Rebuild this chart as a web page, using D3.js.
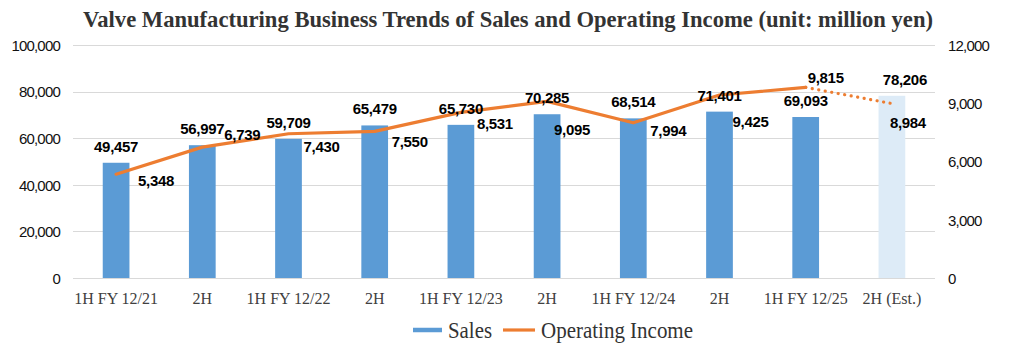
<!DOCTYPE html>
<html>
<head>
<meta charset="utf-8">
<script src="https://cdn.jsdelivr.net/npm/d3@7"></script>
<style>
  html, body { margin: 0; padding: 0; background: #fff; }
  svg { display: block; }
</style>
</head>
<body>
<svg id="chart" width="1015" height="364"></svg>
<script>
// ---- data ----
const categories = ["1H FY 12/21", "2H", "1H FY 12/22", "2H", "1H FY 12/23", "2H", "1H FY 12/24", "2H", "1H FY 12/25", "2H (Est.)"];
const sales = [49457, 56997, 59709, 65479, 65730, 70285, 68514, 71401, 69093, 78206];
const operatingIncome = [5348, 6739, 7430, 7550, 8531, 9095, 7994, 9425, 9815, 8984];
const estimateFlags = [false, false, false, false, false, false, false, false, false, true];
const leftTicks = [0, 20000, 40000, 60000, 80000, 100000];
const rightTicks = [0, 3000, 6000, 9000, 12000];
const titleText = "Valve Manufacturing Business Trends of Sales and Operating Income (unit: million yen)";
const legendLabels = ["Sales", "Operating Income"];

// ---- layout / style ----
const W = 1015, H = 364;
const plot = { left: 73, right: 935, top: 45, bottom: 278 };
const blue = "#5B9BD5", lightBlue = "#DDEBF7", orange = "#ED7D31", grid = "#D9D9D9";
const fmt = d3.format(",");

const svg = d3.select("#chart");
const idx = d3.range(categories.length);

const x = d3.scaleBand().domain(idx).range([plot.left, plot.right]).paddingInner(0.69).paddingOuter(0.345);
const yL = d3.scaleLinear().domain([0, 100000]).range([plot.bottom, plot.top]);
const yR = d3.scaleLinear().domain([0, 12000]).range([plot.bottom, plot.top]);
const cx = i => x(i) + x.bandwidth() / 2;

// title
svg.append("text")
  .attr("x", (83 + 933) / 2).attr("y", 27)
  .attr("text-anchor", "middle")
  .attr("font-family", "'Liberation Serif', 'Times New Roman', serif")
  .attr("font-weight", "bold").attr("font-size", 22.5)
  .attr("fill", "#333")
  .attr("textLength", 850).attr("lengthAdjust", "spacingAndGlyphs")
  .text(titleText);

// gridlines
svg.append("g").selectAll("line").data(leftTicks).join("line")
  .attr("x1", plot.left).attr("x2", plot.right)
  .attr("y1", d => Math.round(yL(d)) + 0.5).attr("y2", d => Math.round(yL(d)) + 0.5)
  .attr("stroke", grid).attr("stroke-width", 1);

// left axis
const leftAxis = d3.axisLeft(yL).tickValues(leftTicks).tickFormat(fmt).tickSize(0).tickPadding(0);
const gL = svg.append("g").attr("transform", `translate(60,0)`).call(leftAxis);
gL.select(".domain").remove();
gL.selectAll("text").attr("font-family", "'Liberation Sans', Arial, sans-serif").attr("font-size", 15)
  .attr("fill", "#111").attr("x", 0).attr("dy", "0.35em").attr("letter-spacing", -0.8);

// right axis
const rightAxis = d3.axisRight(yR).tickValues(rightTicks).tickFormat(fmt).tickSize(0).tickPadding(0);
const gR = svg.append("g").attr("transform", `translate(948,0)`).call(rightAxis);
gR.select(".domain").remove();
gR.selectAll("text").attr("font-family", "'Liberation Sans', Arial, sans-serif").attr("font-size", 15)
  .attr("fill", "#111").attr("x", 0).attr("dy", "0.35em").attr("letter-spacing", -0.8);

// bottom category axis
const bottomAxis = d3.axisBottom(x).tickFormat(i => categories[i]).tickSize(0).tickPadding(0);
const gB = svg.append("g").attr("transform", `translate(0,${plot.bottom})`).call(bottomAxis);
gB.select(".domain").remove();
gB.selectAll("text").attr("font-family", "'Liberation Serif', 'Times New Roman', serif")
  .attr("font-size", 16).attr("fill", "#404040").attr("y", 26).attr("dy", 0);

// bars
svg.append("g").selectAll("rect").data(idx).join("rect")
  .attr("x", i => x(i)).attr("width", x.bandwidth())
  .attr("y", i => yL(sales[i])).attr("height", i => yL(0) - yL(sales[i]))
  .attr("fill", i => estimateFlags[i] ? lightBlue : blue);

// line: solid actuals, dotted estimate
const lineGen = d3.line().x(i => cx(i)).y(i => yR(operatingIncome[i]));
const actualIdx = idx.filter(i => !estimateFlags[i]);
const lastActual = actualIdx[actualIdx.length - 1];
const estIdx = [lastActual].concat(idx.filter(i => estimateFlags[i]));
svg.append("path").attr("d", lineGen(actualIdx)).attr("fill", "none")
  .attr("stroke", orange).attr("stroke-width", 3.2).attr("stroke-linejoin", "round").attr("stroke-linecap", "round");
svg.append("path").attr("d", lineGen(estIdx)).attr("fill", "none")
  .attr("stroke", orange).attr("stroke-width", 3.2).attr("stroke-linecap", "round")
  .attr("stroke-dasharray", "0.1 6.5");

// sales labels
const labelFont = "'Liberation Sans', Arial, sans-serif";
const salesLabelDx = i => estimateFlags[i] ? 13 : 0;
svg.append("g").selectAll("text").data(idx).join("text")
  .attr("x", i => cx(i) + salesLabelDx(i))
  .attr("y", i => yL(sales[i]) - 11)
  .attr("text-anchor", "middle")
  .attr("font-family", labelFont).attr("font-weight", "bold").attr("font-size", 15).attr("fill", "#000")
  .attr("letter-spacing", -0.3)
  .text(i => fmt(sales[i]));

// operating income labels (manual placement like the original)
const oiOffsets = [[40, 6], [40, -13], [33, 13], [35, 10], [34, 11], [25, 28], [35, 8], [31, 27], [20, -10], [16, 19]];
svg.append("g").selectAll("text").data(idx).join("text")
  .attr("x", i => cx(i) + oiOffsets[i][0])
  .attr("y", i => yR(operatingIncome[i]) + oiOffsets[i][1] + 5.5)
  .attr("text-anchor", "middle")
  .attr("font-family", labelFont).attr("font-weight", "bold").attr("font-size", 15).attr("fill", "#000")
  .attr("letter-spacing", -0.3)
  .text(i => fmt(operatingIncome[i]));

// legend
const lg = svg.append("g");
const legendY = 330;
lg.append("line").attr("x1", 413).attr("x2", 442).attr("y1", legendY).attr("y2", legendY)
  .attr("stroke", blue).attr("stroke-width", 4.5);
lg.append("text").attr("x", 448).attr("y", legendY + 7.5)
  .attr("font-family", "'Liberation Serif', 'Times New Roman', serif").attr("font-size", 23).attr("fill", "#333")
  .attr("textLength", 44).attr("lengthAdjust", "spacingAndGlyphs")
  .text(legendLabels[0]);
lg.append("line").attr("x1", 503).attr("x2", 535).attr("y1", legendY).attr("y2", legendY)
  .attr("stroke", orange).attr("stroke-width", 3.2);
lg.append("text").attr("x", 541).attr("y", legendY + 7.5)
  .attr("font-family", "'Liberation Serif', 'Times New Roman', serif").attr("font-size", 23).attr("fill", "#333")
  .attr("textLength", 152).attr("lengthAdjust", "spacingAndGlyphs")
  .text(legendLabels[1]);
</script>
</body>
</html>
